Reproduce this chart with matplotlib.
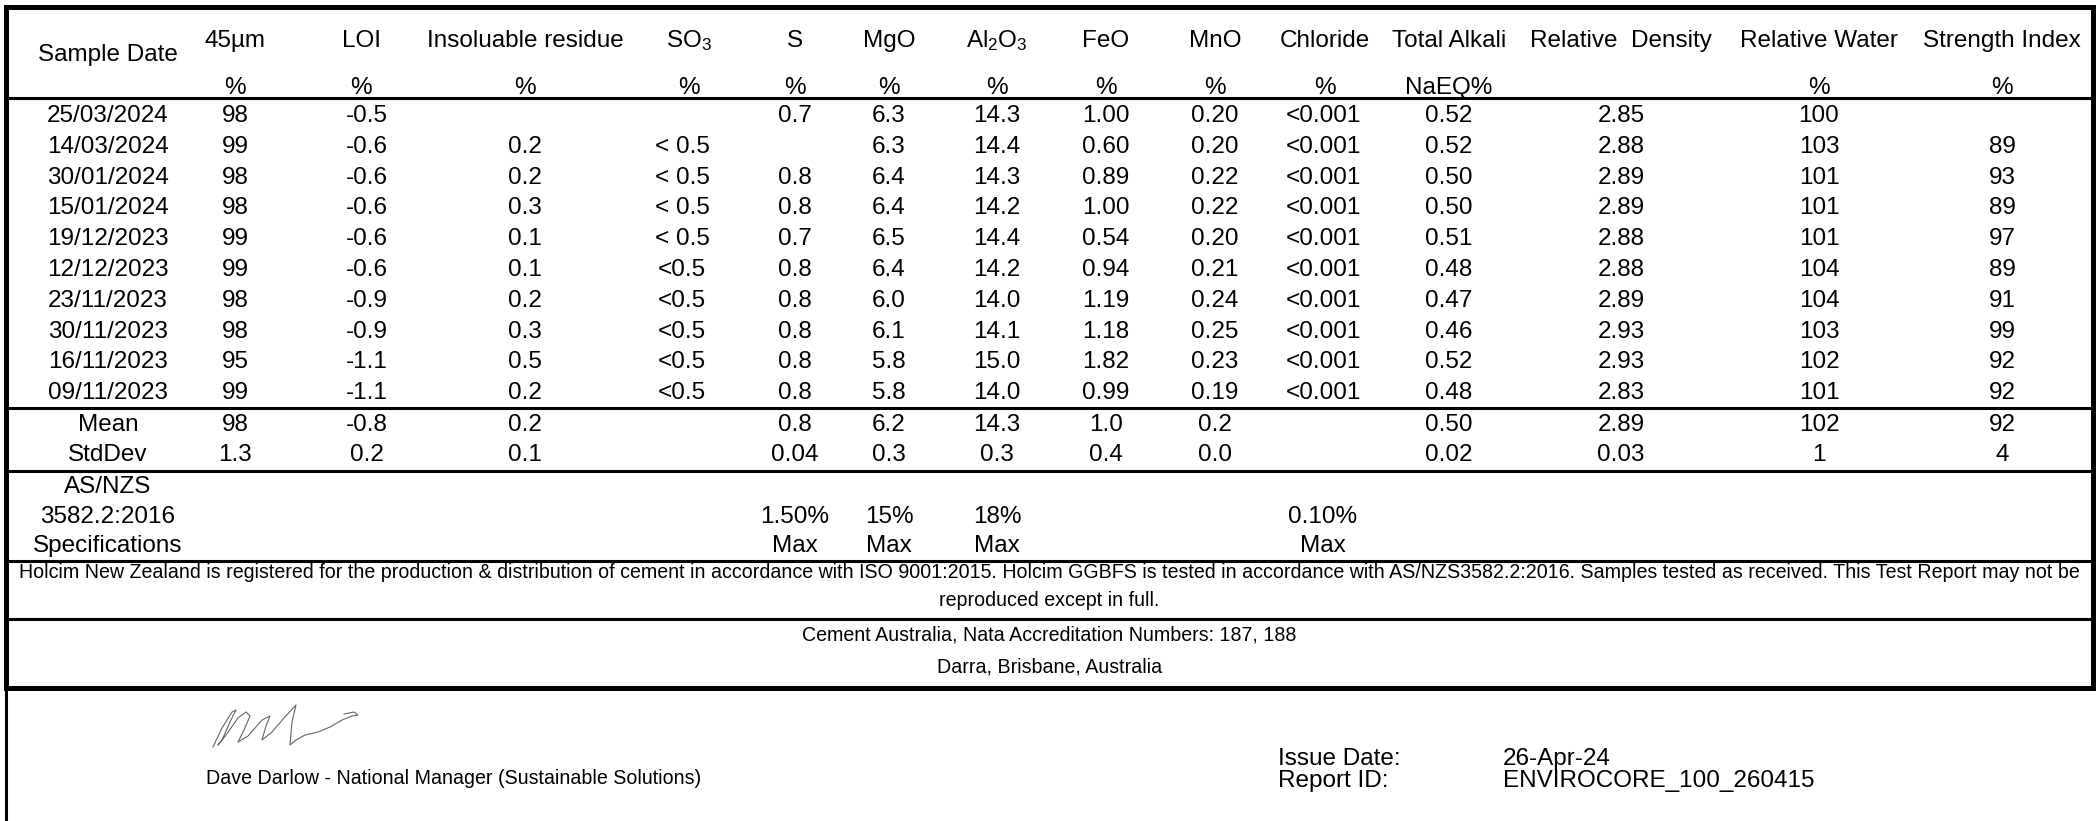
import matplotlib
matplotlib.use("Agg")
import matplotlib.pyplot as plt
import numpy as np

plt.rcParams['font.family'] = ['Liberation Sans', 'DejaVu Sans']
plt.rcParams['mathtext.fontset'] = 'custom'
plt.rcParams['mathtext.rm'] = 'Liberation Sans'
plt.rcParams['mathtext.it'] = 'Liberation Sans'

# ---------------- data ----------------
headers = ["45µm", "LOI", "Insoluable residue", r"$\mathregular{SO_3}$", "S", "MgO",
           r"$\mathregular{Al_2O_3}$", "FeO", "MnO", "Chloride", "Total Alkali",
           "Relative  Density", "Relative Water", "Strength Index"]
units = ["%", "%", "%", "%", "%", "%", "%", "%", "%", "%", "NaEQ%", "", "%", "%"]

dates = ["25/03/2024", "14/03/2024", "30/01/2024", "15/01/2024", "19/12/2023",
         "12/12/2023", "23/11/2023", "30/11/2023", "16/11/2023", "09/11/2023"]
fineness = ["98", "99", "98", "98", "99", "99", "98", "98", "95", "99"]
loi = ["-0.5", "-0.6", "-0.6", "-0.6", "-0.6", "-0.6", "-0.9", "-0.9", "-1.1", "-1.1"]
insol = ["", "0.2", "0.2", "0.3", "0.1", "0.1", "0.2", "0.3", "0.5", "0.2"]
so3 = ["", "< 0.5", "< 0.5", "< 0.5", "< 0.5", "<0.5", "<0.5", "<0.5", "<0.5", "<0.5"]
sulfur = ["0.7", "", "0.8", "0.8", "0.7", "0.8", "0.8", "0.8", "0.8", "0.8"]
mgo = ["6.3", "6.3", "6.4", "6.4", "6.5", "6.4", "6.0", "6.1", "5.8", "5.8"]
al2o3 = ["14.3", "14.4", "14.3", "14.2", "14.4", "14.2", "14.0", "14.1", "15.0", "14.0"]
feo = ["1.00", "0.60", "0.89", "1.00", "0.54", "0.94", "1.19", "1.18", "1.82", "0.99"]
mno = ["0.20", "0.20", "0.22", "0.22", "0.20", "0.21", "0.24", "0.25", "0.23", "0.19"]
chloride = ["<0.001"] * 10
alkali = ["0.52", "0.52", "0.50", "0.50", "0.51", "0.48", "0.47", "0.46", "0.52", "0.48"]
rel_density = ["2.85", "2.88", "2.89", "2.89", "2.88", "2.88", "2.89", "2.93", "2.93", "2.83"]
rel_water = ["100", "103", "101", "101", "101", "104", "104", "103", "102", "101"]
strength = ["", "89", "93", "89", "97", "89", "91", "99", "92", "92"]

mean_row = ["98", "-0.8", "0.2", "", "0.8", "6.2", "14.3", "1.0", "0.2", "", "0.50", "2.89", "102", "92"]
std_row = ["1.3", "0.2", "0.1", "", "0.04", "0.3", "0.3", "0.4", "0.0", "", "0.02", "0.03", "1", "4"]
spec_limit = ["", "", "", "", "1.50%", "15%", "18%", "", "", "0.10%", "", "", "", ""]
spec_kind = ["", "", "", "", "Max", "Max", "Max", "", "", "Max", "", "", "", ""]
spec_label = ["AS/NZS", "3582.2:2016", "Specifications"]

footer1 = ("Holcim New Zealand is registered for the production & distribution of cement in accordance "
           "with ISO 9001:2015. Holcim GGBFS is tested in accordance with AS/NZS3582.2:2016. Samples "
           "tested as received. This Test Report may not be")
footer2 = "reproduced except in full."
footer3 = "Cement Australia, Nata Accreditation Numbers: 187, 188"
footer4 = "Darra, Brisbane, Australia"
signatory = "Dave Darlow - National Manager (Sustainable Solutions)"
issue_date = "26-Apr-24"
report_id = "ENVIROCORE_100_260415"

columns = [fineness, loi, insol, so3, sulfur, mgo, al2o3, feo, mno, chloride,
           alkali, rel_density, rel_water, strength]

# ---------------- layout ----------------
W, H = 2099, 821
fig = plt.figure(figsize=(W / 100, H / 100), dpi=100)
ax = fig.add_axes([0, 0, 1, 1])
ax.set_xlim(0, W)
ax.set_ylim(H, 0)
ax.axis('off')

FS = 17.5
FS_SMALL = 14.1

head_x = [235, 361, 525, 689, 795, 889, 997, 1106, 1215, 1325, 1449, 1621, 1819, 2002]
val_x = [235, 367, 525, 682, 795, 889, 997, 1106, 1215, 1323, 1449, 1621, 1819, 2002]
date_x = 108

y_head, y_units = 41, 88
row_y0, row_dy = 116, 30.8

# header
ax.text(date_x, 55, "Sample Date", ha='center', va='center', fontsize=FS)
for x, h, u in zip(head_x, headers, units):
    ax.text(x, y_head, h, ha='center', va='center', fontsize=FS)
    if u:
        ax.text(x, y_units, u, ha='center', va='center', fontsize=FS)

# data rows
for i, d in enumerate(dates):
    y = row_y0 + i * row_dy
    ax.text(date_x, y, d, ha='center', va='center', fontsize=FS)
    for x, col in zip(val_x, columns):
        if col[i]:
            ax.text(x, y, col[i], ha='center', va='center', fontsize=FS)

# summary rows
for label, vals, y in (("Mean", mean_row, 425), ("StdDev", std_row, 455)):
    ax.text(date_x, y, label, ha='center', va='center', fontsize=FS)
    for x, v in zip(val_x, vals):
        if v:
            ax.text(x, y, v, ha='center', va='center', fontsize=FS)

# specifications
for lab, y in zip(spec_label, (487, 517, 546)):
    ax.text(date_x, y, lab, ha='center', va='center', fontsize=FS)
for x, lim, kind in zip(val_x, spec_limit, spec_kind):
    if lim:
        ax.text(x, 517, lim, ha='center', va='center', fontsize=FS)
        ax.text(x, 546, kind, ha='center', va='center', fontsize=FS)

# footer text
ax.text(W / 2, 573, footer1, ha='center', va='center', fontsize=FS_SMALL)
ax.text(W / 2, 600, footer2, ha='center', va='center', fontsize=FS_SMALL)
ax.text(W / 2, 635, footer3, ha='center', va='center', fontsize=FS_SMALL)
ax.text(W / 2, 667, footer4, ha='center', va='center', fontsize=FS_SMALL)

ax.text(206, 779, signatory, ha='left', va='center', fontsize=FS_SMALL)
ax.text(1278, 759, "Issue Date:", ha='left', va='center', fontsize=FS)
ax.text(1278, 781, "Report ID:", ha='left', va='center', fontsize=FS)
ax.text(1503, 759, issue_date, ha='left', va='center', fontsize=FS)
ax.text(1503, 781, report_id, ha='left', va='center', fontsize=FS)

# signature (decorative scribble)
sig_x = [213, 222, 232, 236, 230, 222, 218, 226, 238, 246, 250, 244, 238, 248, 262, 270, 266,
         262, 272, 284, 296, 292, 290, 296, 305, 318, 330, 342, 352, 358, 354, 344]
sig_y = [747, 728, 712, 710, 722, 740, 745, 735, 718, 712, 716, 730, 742, 736, 720, 716, 726,
         740, 732, 718, 705, 722, 745, 740, 735, 732, 727, 720, 716, 715, 712, 714]
ax.plot(sig_x, sig_y, color='#666666', lw=0.8, solid_joinstyle='round')

# rules / borders
LW_THICK = 3.6
LW = 2.2
left, right, top, bottom = 6, 2093, 7, 688
ax.plot([left, right], [top, top], color='black', lw=LW_THICK, solid_capstyle='projecting')
ax.plot([left, right], [bottom, bottom], color='black', lw=LW_THICK, solid_capstyle='projecting')
ax.plot([left, left], [top, bottom], color='black', lw=LW_THICK, solid_capstyle='projecting')
ax.plot([right, right], [top, bottom], color='black', lw=LW_THICK, solid_capstyle='projecting')
ax.plot([left, left], [bottom, H], color='black', lw=LW)
for y in (98, 408, 471, 561, 619):
    ax.plot([left, right], [y, y], color='black', lw=LW)

fig.savefig("out.png", dpi=100)
